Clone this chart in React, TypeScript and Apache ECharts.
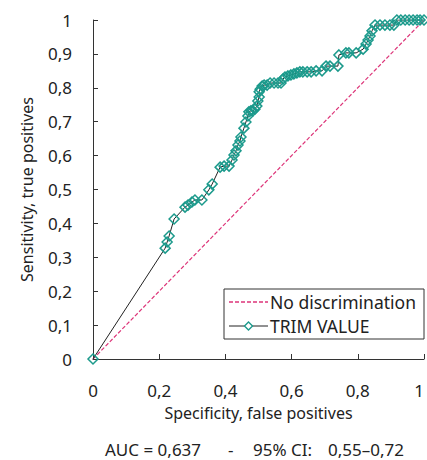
import React, { useEffect, useRef } from "react";
import * as echarts from "echarts";

const fpr = [
  0, 0.218, 0.224, 0.23, 0.245, 0.278, 0.287, 0.299, 0.308, 0.329, 0.35, 0.36,
  0.384, 0.396, 0.411, 0.42, 0.426, 0.432, 0.438, 0.444, 0.447, 0.456, 0.462,
  0.468, 0.471, 0.477, 0.483, 0.489, 0.495, 0.498, 0.502, 0.502, 0.505, 0.511,
  0.517, 0.526, 0.535, 0.547, 0.559, 0.568, 0.574, 0.58, 0.589, 0.598, 0.607,
  0.616, 0.625, 0.634, 0.647, 0.659, 0.674, 0.692, 0.704, 0.716, 0.74, 0.743,
  0.764, 0.773, 0.795, 0.816, 0.825, 0.831, 0.837, 0.843, 0.852, 0.867, 0.882,
  0.897, 0.909, 0.918, 0.93, 0.943, 0.955, 0.967, 0.979, 0.988, 1,
];
const tpr = [
  0, 0.327, 0.345, 0.363, 0.413, 0.448, 0.454, 0.463, 0.469, 0.469, 0.499,
  0.516, 0.566, 0.569, 0.569, 0.587, 0.602, 0.614, 0.631, 0.643, 0.655, 0.681,
  0.699, 0.717, 0.729, 0.732, 0.732, 0.737, 0.746, 0.761, 0.773, 0.788, 0.796,
  0.805, 0.808, 0.808, 0.814, 0.814, 0.814, 0.814, 0.826, 0.832, 0.835, 0.838,
  0.841, 0.844, 0.847, 0.847, 0.847, 0.847, 0.85, 0.85, 0.864, 0.864, 0.864,
  0.897, 0.903, 0.903, 0.903, 0.914, 0.929, 0.941, 0.953, 0.968, 0.985, 0.985,
  0.985, 0.985, 0.985, 1, 1, 1, 1, 1, 1, 1, 1,
];
const diagonal = [
  [0, 0],
  [1, 1],
];
const seriesNames = ["No discrimination", "TRIM VALUE"];
const xAxisTitle = "Specificity, false positives";
const yAxisTitle = "Sensitivity, true positives";
const aucText = "AUC = 0,637";
const ciLabel = "95% CI:";
const ciRange = "0,55–0,72";

const FONT = "Noto Sans";
const TEAL = "#1c9a8c";
const PINK = "#dd3579";
const INK = "#222";

const fmt = (v: number) => String(Math.round(v * 10) / 10).replace(".", ",");

export default function App() {
  const ref = useRef<HTMLDivElement>(null);
  useEffect(() => {
    document.body.style.margin = "0";
    const chart = echarts.init(ref.current!, null, { renderer: "svg" });
    const roc = fpr.map((x, i) => [x, tpr[i]]);
    const lgX = 224;
    const lgY = 289;
    const row1 = lgY + 13;
    const row2 = lgY + 37;
    chart.setOption({
      animation: false,
      backgroundColor: "#fff",
      textStyle: { fontFamily: FONT },
      grid: {
        left: 93,
        right: 3,
        top: 20,
        bottom: 101,
        containLabel: false,
        outerBoundsMode: "none",
      },
      xAxis: {
        type: "value",
        min: 0,
        max: 1,
        interval: 0.2,
        offset: 12,
        name: xAxisTitle,
        nameLocation: "middle",
        nameGap: 34,
        nameTextStyle: { fontSize: 16, color: INK, fontFamily: FONT },
        axisLine: { show: true, lineStyle: { color: "#333", width: 1 } },
        axisTick: { show: true, inside: true, length: 5, lineStyle: { color: "#333" } },
        axisLabel: {
          fontSize: 17,
          color: INK,
          margin: 11,
          formatter: fmt,
          fontFamily: FONT,
          alignMaxLabel: "right",
        },
        splitLine: { show: false },
      },
      yAxis: {
        type: "value",
        min: 0,
        max: 1,
        interval: 0.1,
        offset: 11,
        name: yAxisTitle,
        nameLocation: "middle",
        nameGap: 47,
        nameTextStyle: { fontSize: 16, color: INK, fontFamily: FONT },
        axisLine: { show: true, lineStyle: { color: "#333", width: 1 } },
        axisTick: { show: true, inside: true, length: 5, lineStyle: { color: "#333" } },
        axisLabel: { fontSize: 17, color: INK, margin: 10, formatter: fmt, fontFamily: FONT },
        splitLine: { show: false },
      },
      series: [
        {
          name: seriesNames[0],
          type: "line",
          data: diagonal,
          symbol: "none",
          lineStyle: { color: PINK, width: 1.2, type: [4, 2] },
          itemStyle: { color: PINK },
          z: 1,
        },
        {
          name: seriesNames[1],
          type: "line",
          data: roc,
          symbol: "diamond",
          symbolSize: 10,
          lineStyle: { color: INK, width: 1 },
          itemStyle: { color: "rgba(255,255,255,0)", borderColor: TEAL, borderWidth: 1.5 },
          z: 2,
        },
      ],
      graphic: [
        {
          type: "rect",
          shape: { x: lgX, y: lgY, width: 200, height: 50 },
          style: { fill: "#fff", stroke: "#333", lineWidth: 1 },
          z: 10,
        },
        {
          type: "line",
          shape: { x1: lgX + 5, y1: row1, x2: lgX + 44, y2: row1 },
          style: { stroke: PINK, lineWidth: 1.5, lineDash: [4, 2] },
          z: 11,
        },
        {
          type: "text",
          x: lgX + 46,
          y: row1,
          style: {
            text: seriesNames[0],
            fontSize: 17.5,
            fill: INK,
            fontFamily: FONT,
            verticalAlign: "middle",
            align: "left",
          },
          z: 11,
        },
        {
          type: "line",
          shape: { x1: lgX + 5, y1: row2, x2: lgX + 44, y2: row2 },
          style: { stroke: INK, lineWidth: 1 },
          z: 11,
        },
        {
          type: "polygon",
          shape: {
            points: [
              [lgX + 24.5, row2 - 4],
              [lgX + 28.5, row2],
              [lgX + 24.5, row2 + 4],
              [lgX + 20.5, row2],
            ],
          },
          style: { fill: "#fff", stroke: TEAL, lineWidth: 1.4 },
          z: 12,
        },
        {
          type: "text",
          x: lgX + 46,
          y: row2,
          style: {
            text: seriesNames[1],
            fontSize: 17.5,
            fill: INK,
            fontFamily: FONT,
            verticalAlign: "middle",
            align: "left",
          },
          z: 11,
        },
        {
          type: "text",
          x: 105,
          y: 449,
          style: { text: aucText, fontSize: 17, fill: INK, fontFamily: FONT, verticalAlign: "middle" },
        },
        {
          type: "text",
          x: 228,
          y: 449,
          style: { text: "-", fontSize: 17, fill: INK, fontFamily: FONT, verticalAlign: "middle" },
        },
        {
          type: "text",
          x: 253,
          y: 449,
          style: { text: ciLabel, fontSize: 17, fill: INK, fontFamily: FONT, verticalAlign: "middle" },
        },
        {
          type: "text",
          x: 328,
          y: 449,
          style: { text: ciRange, fontSize: 17, fill: INK, fontFamily: FONT, verticalAlign: "middle" },
        },
      ],
    });
    return () => chart.dispose();
  }, []);
  return <div ref={ref} style={{ width: 427, height: 460 }} />;
}
